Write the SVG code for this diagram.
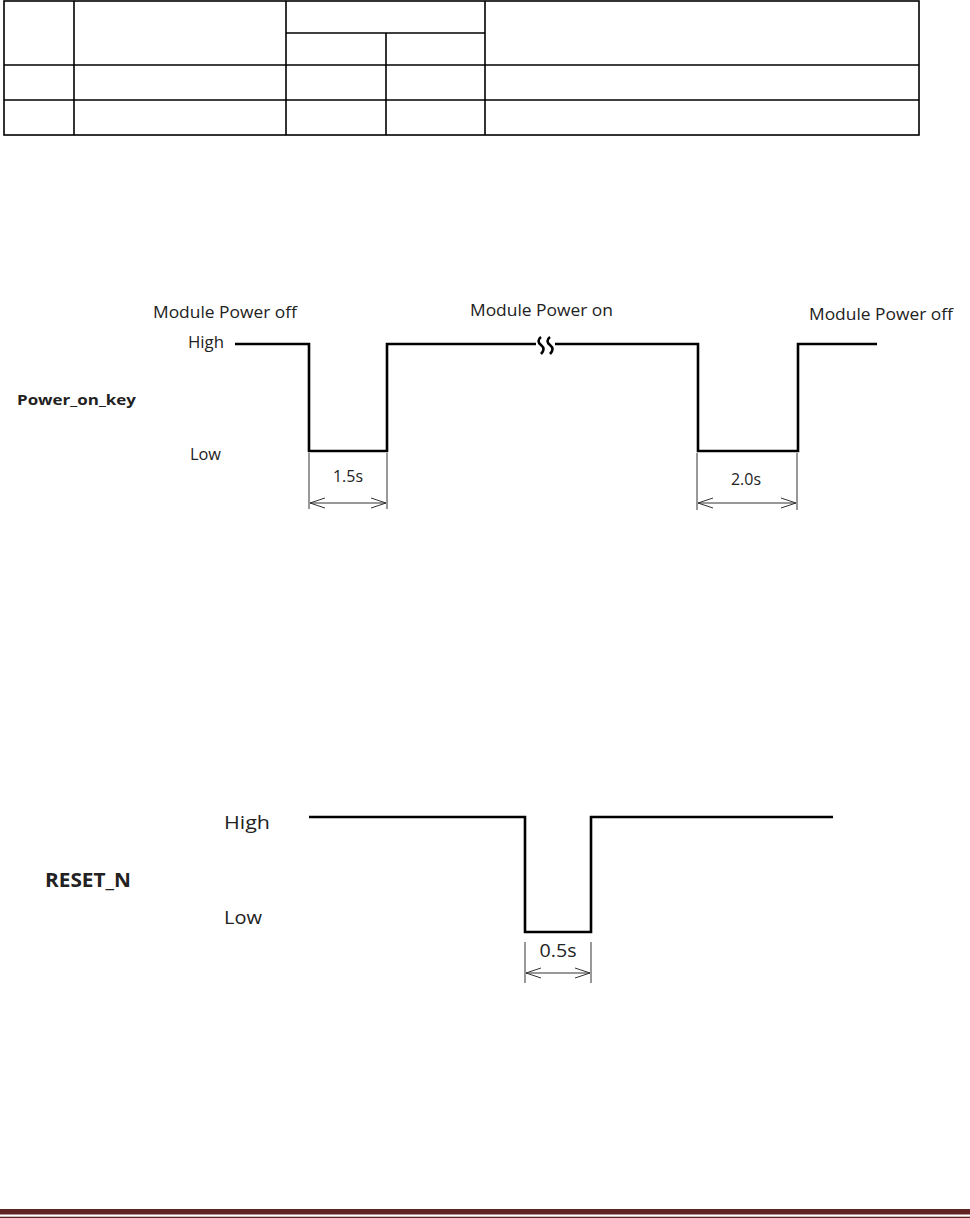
<svg xmlns="http://www.w3.org/2000/svg" width="970" height="1218" viewBox="0 0 970 1218">
<style>
.tb{stroke:#000;stroke-width:1.6;fill:none}
.wave{stroke:#000;stroke-width:2.6;fill:none;stroke-linejoin:miter}
.dim{stroke:#333;stroke-width:1;fill:none}
.t{font-family:"Open Sans","DejaVu Sans",sans-serif;fill:#222}
.b{font-weight:bold}
</style>
<defs>
<marker id="ah" viewBox="0 0 16 12" refX="15" refY="6" markerWidth="16" markerHeight="12" markerUnits="userSpaceOnUse" orient="auto-start-reverse">
<path d="M0 1 L15 6 L0 11" fill="none" stroke="#333" stroke-width="1"/>
</marker>
</defs>
<rect width="970" height="1218" fill="#fff"/>
<g id="table">
<rect class="tb" x="4" y="1" width="915" height="134"/>
<line class="tb" x1="74" y1="1" x2="74" y2="135"/>
<line class="tb" x1="286" y1="1" x2="286" y2="135"/>
<line class="tb" x1="485" y1="1" x2="485" y2="135"/>
<line class="tb" x1="386" y1="33" x2="386" y2="135"/>
<line class="tb" x1="286" y1="33" x2="485" y2="33"/>
<line class="tb" x1="4" y1="65" x2="919" y2="65"/>
<line class="tb" x1="4" y1="100" x2="919" y2="100"/>
</g>
<g id="power_on_key">
<text class="t b" x="17" y="405" font-size="15" textLength="119" lengthAdjust="spacingAndGlyphs">Power_on_key</text>
<text class="t" x="153" y="318" font-size="16.5" textLength="144" lengthAdjust="spacingAndGlyphs">Module Power off</text>
<text class="t" x="470" y="316" font-size="16.5" textLength="143" lengthAdjust="spacingAndGlyphs">Module Power on</text>
<text class="t" x="809" y="320" font-size="16.5" textLength="144" lengthAdjust="spacingAndGlyphs">Module Power off</text>
<text class="t" x="188" y="348" font-size="16.5" textLength="36" lengthAdjust="spacingAndGlyphs">High</text>
<text class="t" x="190" y="460" font-size="16.5" textLength="31" lengthAdjust="spacingAndGlyphs">Low</text>
<polyline class="wave" points="235,344 309,344 309,451 387,451 387,344 536,344"/>
<polyline class="wave" points="555,344 698,344 698,451 798,451 798,344 877,344"/>
<path class="wave" stroke-width="2.2" d="M541 337 q-5 4 0 8 q5 4 0 9 M550 337 q-5 4 0 8 q5 4 0 9"/>
</g>
<g id="power_dims">
<line class="dim" x1="309" y1="453" x2="309" y2="509"/>
<line class="dim" x1="387" y1="453" x2="387" y2="509"/>
<line class="dim" x1="310" y1="503" x2="386" y2="503" marker-start="url(#ah)" marker-end="url(#ah)"/>
<text class="t" x="348" y="482" font-size="16.5" text-anchor="middle" textLength="30" lengthAdjust="spacingAndGlyphs">1.5s</text>
<line class="dim" x1="697" y1="453" x2="697" y2="510"/>
<line class="dim" x1="797" y1="453" x2="797" y2="510"/>
<line class="dim" x1="698" y1="503" x2="796" y2="503" marker-start="url(#ah)" marker-end="url(#ah)"/>
<text class="t" x="746" y="485" font-size="16.5" text-anchor="middle" textLength="30" lengthAdjust="spacingAndGlyphs">2.0s</text>
</g>
<g id="reset_n">
<text class="t b" x="45" y="887" font-size="19" textLength="86" lengthAdjust="spacingAndGlyphs">RESET_N</text>
<text class="t" x="224" y="829" font-size="19" textLength="46" lengthAdjust="spacingAndGlyphs">High</text>
<text class="t" x="224" y="924" font-size="19" textLength="38" lengthAdjust="spacingAndGlyphs">Low</text>
<polyline class="wave" stroke-width="3" points="309,817 525,817 525,932 591,932 591,817 833,817"/>
</g>
<g id="reset_dims">
<line class="dim" x1="525" y1="942" x2="525" y2="983"/>
<line class="dim" x1="591" y1="942" x2="591" y2="983"/>
<line class="dim" stroke-width="1.4" x1="526" y1="973" x2="590" y2="973" marker-start="url(#ah)" marker-end="url(#ah)"/>
<text class="t" x="558" y="957" font-size="19" text-anchor="middle" textLength="37" lengthAdjust="spacingAndGlyphs">0.5s</text>
</g>
<g id="footer">
<rect x="0" y="1209" width="970" height="5.5" fill="#622423"/>
<rect x="0" y="1216.7" width="970" height="1.3" fill="#622423"/>
</g>
</svg>
